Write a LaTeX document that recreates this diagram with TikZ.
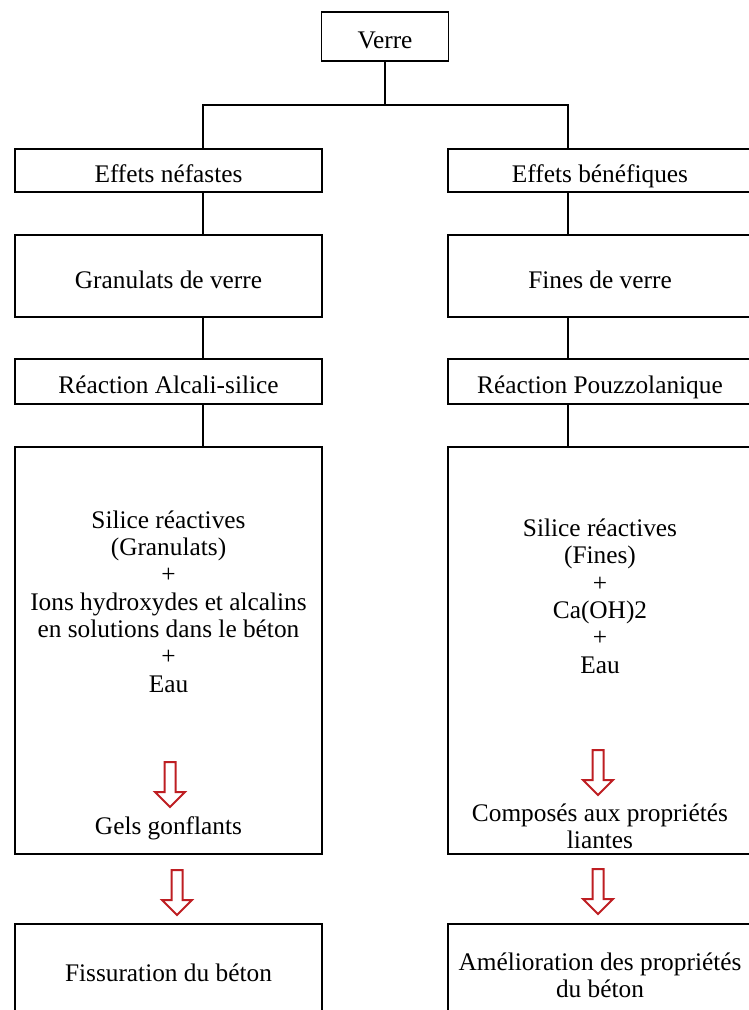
\documentclass[tikz,border=0pt]{standalone}
\usepackage{fontspec}
\setmainfont{Liberation Serif}
\usetikzlibrary{positioning, calc}
\definecolor{flechered}{RGB}{190,30,34}
\newcommand{\pxu}{0.75pt}

\begin{document}
\begin{tikzpicture}[x=0.75pt, y=-0.75pt,
    boite/.style={draw, line width=1.4pt, inner sep=0pt, align=center, font=\fontsize{19}{20.5}\selectfont},
    uneligne/.style={text height=18pt, text depth=0pt},
    texte/.style={inner sep=0pt, align=center, font=\fontsize{19}{20.5}\selectfont},
    lien/.style={line width=1.2pt},
    fleche/.pic={\draw[flechered, line width=1.5pt, fill=white, line join=miter] (-5.5,0) -- (-5.5,30) -- (-15,30) -- (0,45) -- (15,30) -- (5.5,30) -- (5.5,0) -- cycle;}]
    \useasboundingbox (0,0) rectangle (749,1010);

    % Verre
    \node[boite, uneligne, minimum width=127*\pxu, minimum height=49*\pxu] (verre) at (385,36.5) {Verre};

    % Effets nefastes
    \node[boite, uneligne, minimum width=307*\pxu, minimum height=43*\pxu] (nefastes) at (168.5,170.5) {Effets néfastes};
    \node[boite, uneligne, minimum width=307*\pxu, minimum height=82*\pxu] (granulats) at (168.5,276) {Granulats de verre};
    \node[boite, uneligne, minimum width=307*\pxu, minimum height=45*\pxu] (alcali) at (168.5,381.5) {Réaction Alcali-silice};
    \node[boite, minimum width=307*\pxu, minimum height=407*\pxu] (gelbox) at (168.5,650.5) {};
    \node[texte] (silgran) at (168.5,601.5) {Silice réactives\\(Granulats)\\+\\Ions hydroxydes et alcalins\\en solutions dans le béton\\+\\Eau};
    \node[texte] (gels) at (168.5,828) {Gels gonflants};
    \node[boite, text height=13pt, text depth=4pt, minimum width=307*\pxu, minimum height=102*\pxu] (fissur) at (168.5,975) {Fissuration du béton};

    % Effets benefiques
    \node[boite, uneligne, minimum width=304*\pxu, minimum height=43*\pxu] (benefiques) at (600,170.5) {Effets bénéfiques};
    \node[boite, uneligne, minimum width=304*\pxu, minimum height=82*\pxu] (fines) at (600,276) {Fines de verre};
    \node[boite, uneligne, minimum width=304*\pxu, minimum height=45*\pxu] (pouzzo) at (600,381.5) {Réaction Pouzzolanique};
    \node[boite, minimum width=304*\pxu, minimum height=407*\pxu] (liantbox) at (600,650.5) {};
    \node[texte] (silfines) at (600,596) {Silice réactives\\(Fines)\\+\\Ca(OH)2\\+\\Eau};
    \node[texte] (liantes) at (600,826) {Composés aux propriétés\\liantes};
    \node[boite, minimum width=304*\pxu, minimum height=102*\pxu] (amelio) at (600,975) {Amélioration des propriétés\\du béton};

    % liaisons
    \coordinate (fork) at (385,105);
    \coordinate (lcol) at (203,0);
    \coordinate (rcol) at (568,0);
    \draw[lien] (verre.south) -- (fork);
    \draw[lien] (nefastes.north -| lcol) |- (fork) -| (benefiques.north -| rcol);
    \draw[lien] (nefastes.south -| lcol) -- (granulats.north -| lcol);
    \draw[lien] (granulats.south -| lcol) -- (alcali.north -| lcol);
    \draw[lien] (alcali.south -| lcol) -- (gelbox.north -| lcol);
    \draw[lien] (benefiques.south -| rcol) -- (fines.north -| rcol);
    \draw[lien] (fines.south -| rcol) -- (pouzzo.north -| rcol);
    \draw[lien] (pouzzo.south -| rcol) -- (liantbox.north -| rcol);

    % fleches
    \pic at (170,762) {fleche};
    \pic at (598,750) {fleche};
    \pic at (177,870) {fleche};
    \pic at (598,869) {fleche};
\end{tikzpicture}
\end{document}
